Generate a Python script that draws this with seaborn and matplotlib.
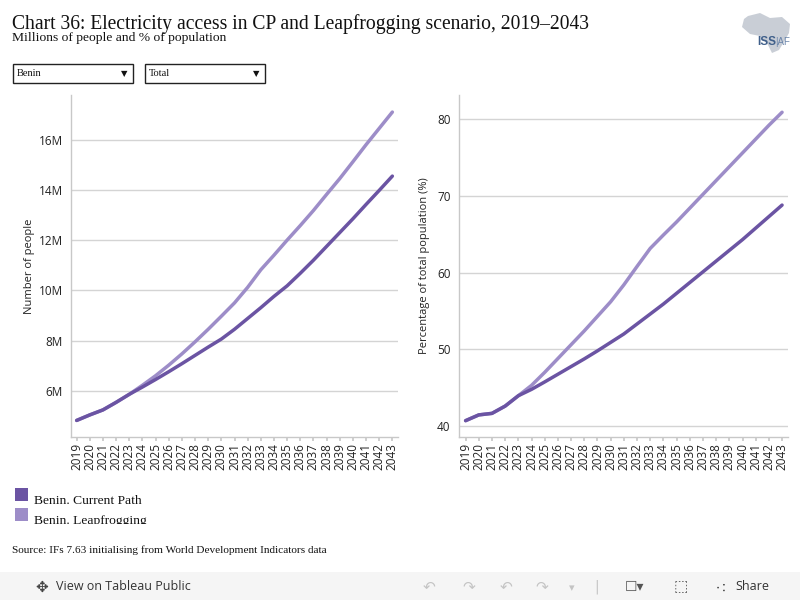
import pandas as pd
import seaborn as sns
import matplotlib.pyplot as plt
from matplotlib.patches import Rectangle, Polygon
from matplotlib.ticker import FuncFormatter

# values
years = list(range(2019, 2044))
people_cp = [4.82, 5.04, 5.24, 5.54, 5.86, 6.15, 6.45, 6.76, 7.08, 7.41, 7.74, 8.06,
             8.45, 8.88, 9.31, 9.76, 10.18, 10.68, 11.20, 11.75, 12.30, 12.85,
             13.42, 13.98, 14.55]
people_lf = [4.82, 5.04, 5.24, 5.54, 5.86, 6.22, 6.60, 7.02, 7.47, 7.95, 8.45, 8.97,
             9.50, 10.12, 10.82, 11.40, 12.00, 12.58, 13.18, 13.82, 14.45, 15.12,
             15.80, 16.45, 17.10]
pct_cp = [40.7, 41.45, 41.65, 42.6, 43.95, 44.78, 45.75, 46.75, 47.75, 48.75, 49.8,
          50.9, 52.0, 53.3, 54.6, 55.9, 57.3, 58.7, 60.1, 61.5, 62.9, 64.3, 65.8,
          67.3, 68.8]
pct_lf = [40.7, 41.45, 41.65, 42.6, 43.95, 45.3, 47.0, 48.8, 50.6, 52.4, 54.3, 56.2,
          58.4, 60.8, 63.15, 64.9, 66.6, 68.4, 70.2, 72.0, 73.8, 75.6, 77.4, 79.2,
          80.9]
scenarios = ['Benin. Current Path', 'Benin. Leapfrogging']
colours = ['#6b54a3', '#9d8dc8']
people_ticks = [6, 8, 10, 12, 14, 16]
pct_ticks = [40, 50, 60, 70, 80]

df = pd.DataFrame({
    'year': years * 2,
    'scenario': [scenarios[0]] * len(years) + [scenarios[1]] * len(years),
    'people': people_cp + people_lf,
    'pct': pct_cp + pct_lf,
})

sns.set_theme(style='white')
plt.rcParams['font.family'] = ['Open Sans', 'DejaVu Sans']

W, H = 800, 600


def px(x, y):
    return x / W, 1 - y / H


fig = plt.figure(figsize=(8, 6), dpi=100)
ax1 = fig.add_axes([71 / W, 163 / H, 327 / W, 342 / H])
ax2 = fig.add_axes([459 / W, 163 / H, 329 / W, 342 / H])

# draw in reverse order so the current path sits on top
for ax, col in [(ax1, 'people'), (ax2, 'pct')]:
    sns.lineplot(data=df, x='year', y=col, hue='scenario', hue_order=scenarios[::-1],
                 palette=colours[::-1], linewidth=2.5, ax=ax, legend=False)
    ax.set_xticks(years)
    ax.set_xticklabels([str(y) for y in years], rotation=90, fontsize=8.5, color='#222222')
    ax.grid(axis='y', color='#d4d4d4', linewidth=1)
    ax.grid(axis='x', visible=False)
    for s in ['top', 'right']:
        ax.spines[s].set_visible(False)
    for s in ['left', 'bottom']:
        ax.spines[s].set_color('#c8c8c8')
        ax.spines[s].set_linewidth(1)
    ax.tick_params(axis='x', bottom=True, length=3, color='#c8c8c8', pad=1.5)
    ax.tick_params(axis='y', left=False, length=0, labelsize=8.5, labelcolor='#222222', pad=6)
    ax.set_xlabel('')

ax1.set_xlim(2018.57, 2043.43)
ax1.set_ylim(4.16, 17.78)
ax1.set_yticks(people_ticks)
ax1.yaxis.set_major_formatter(FuncFormatter(lambda v, p: f'{v:g}M'))
ax1.set_ylabel('Number of people', fontsize=8, color='#222222')
ax1.yaxis.set_label_coords((35 - 71) / 327, 0.5)

ax2.set_xlim(2018.5, 2043.45)
ax2.set_ylim(38.57, 83.15)
ax2.set_yticks(pct_ticks)
ax2.set_ylabel('Percentage of total population (%)', fontsize=8, color='#222222')
ax2.yaxis.set_label_coords((430 - 459) / 329, 0.5)

serif = ['Liberation Serif', 'DejaVu Serif']

# titles
fig.text(*px(12, 28.5), 'Chart 36: Electricity access in CP and Leapfrogging scenario, 2019\u20132043',
         family=serif, fontsize=14.1, color='#111111', va='baseline')
fig.text(*px(12, 41.5), 'Millions of people and % of population',
         family=serif, fontsize=9.7, color='#111111', va='baseline')

# dropdown filters
for x0, label in [(13, 'Benin'), (145, 'Total')]:
    fig.patches.append(Rectangle(px(x0, 83), 120 / W, 19 / H, transform=fig.transFigure,
                                 facecolor='white', edgecolor='#222222', linewidth=1))
    fig.text(*px(x0 + 4, 74), label, family=serif, fontsize=7.5, va='center', color='#111111')
    fig.text(*px(x0 + 108, 73.5), '\u25bc', family=['DejaVu Sans'], fontsize=6,
             va='center', color='#111111')

# logo
africa = [(748, 16), (760, 13), (770, 18), (782, 17), (790, 24), (789, 33), (785, 40),
          (779, 50), (772, 53), (768, 45), (760, 36), (750, 34), (742, 27), (744, 19)]
fig.patches.append(Polygon([px(x, y) for x, y in africa], closed=True,
                           transform=fig.transFigure, facecolor='#c9ced6', edgecolor='none'))
fig.text(*px(757, 45), 'ISS', fontsize=8.5, weight='bold', color='#3f5f8a', va='baseline',
         family=['Liberation Sans Narrow', 'Liberation Sans'])
fig.text(*px(775, 45), '|AF', fontsize=7, color='#6b85aa', va='baseline',
         family=['Liberation Sans Narrow', 'Liberation Sans'])

# legend
for i, (name, c) in enumerate(zip(scenarios, colours)):
    y0 = 488 + 20 * i
    fig.patches.append(Rectangle(px(15, y0 + 13), 13 / W, 13 / H, transform=fig.transFigure,
                                 facecolor=c, edgecolor='none'))
    fig.text(*px(34, y0 + 16), name, family=serif, fontsize=9.7, va='baseline', color='#111111')
fig.patches.append(Rectangle(px(30, 533), 200 / W, 9 / H, transform=fig.transFigure,
                             facecolor='white', edgecolor='none', zorder=5))

fig.text(*px(12, 553), 'Source: IFs 7.63 initialising from World Development Indicators data',
         family=serif, fontsize=8.1, va='baseline', color='#111111')

# toolbar
fig.patches.append(Rectangle((0, 0), 1, 28 / H, transform=fig.transFigure,
                             facecolor='#f5f5f5', edgecolor='none'))
fig.text(*px(42, 587), '\u2725', family=['DejaVu Sans'], fontsize=11, va='center',
         ha='center', color='#444444')
fig.text(*px(56, 587), 'View on Tableau Public', fontsize=9, va='center', color='#333333')
for x, g in [(429, '\u21b6'), (469, '\u21b7'), (506, '\u21b6'), (542, '\u21b7')]:
    fig.text(*px(x, 587), g, family=['DejaVu Sans'], fontsize=11, va='center',
             ha='center', color='#c4c4c4')
fig.text(*px(572, 588), '\u25be', family=['DejaVu Sans'], fontsize=8, va='center',
         ha='center', color='#c4c4c4')
fig.text(*px(597, 587), '|', family=['DejaVu Sans'], fontsize=10, va='center',
         ha='center', color='#c4c4c4')
fig.text(*px(634, 587), '\u2610\u25be', family=['DejaVu Sans'], fontsize=10, va='center',
         ha='center', color='#555555')
fig.text(*px(681, 587), '\u2b1a', family=['DejaVu Sans'], fontsize=11, va='center',
         ha='center', color='#555555')
fig.text(*px(722, 587), '\u2234', family=['DejaVu Sans'], fontsize=10, va='center',
         ha='center', color='#555555', rotation=90)
fig.text(*px(735, 587), 'Share', fontsize=9, va='center', color='#333333')

fig.savefig('out.png', dpi=100)
